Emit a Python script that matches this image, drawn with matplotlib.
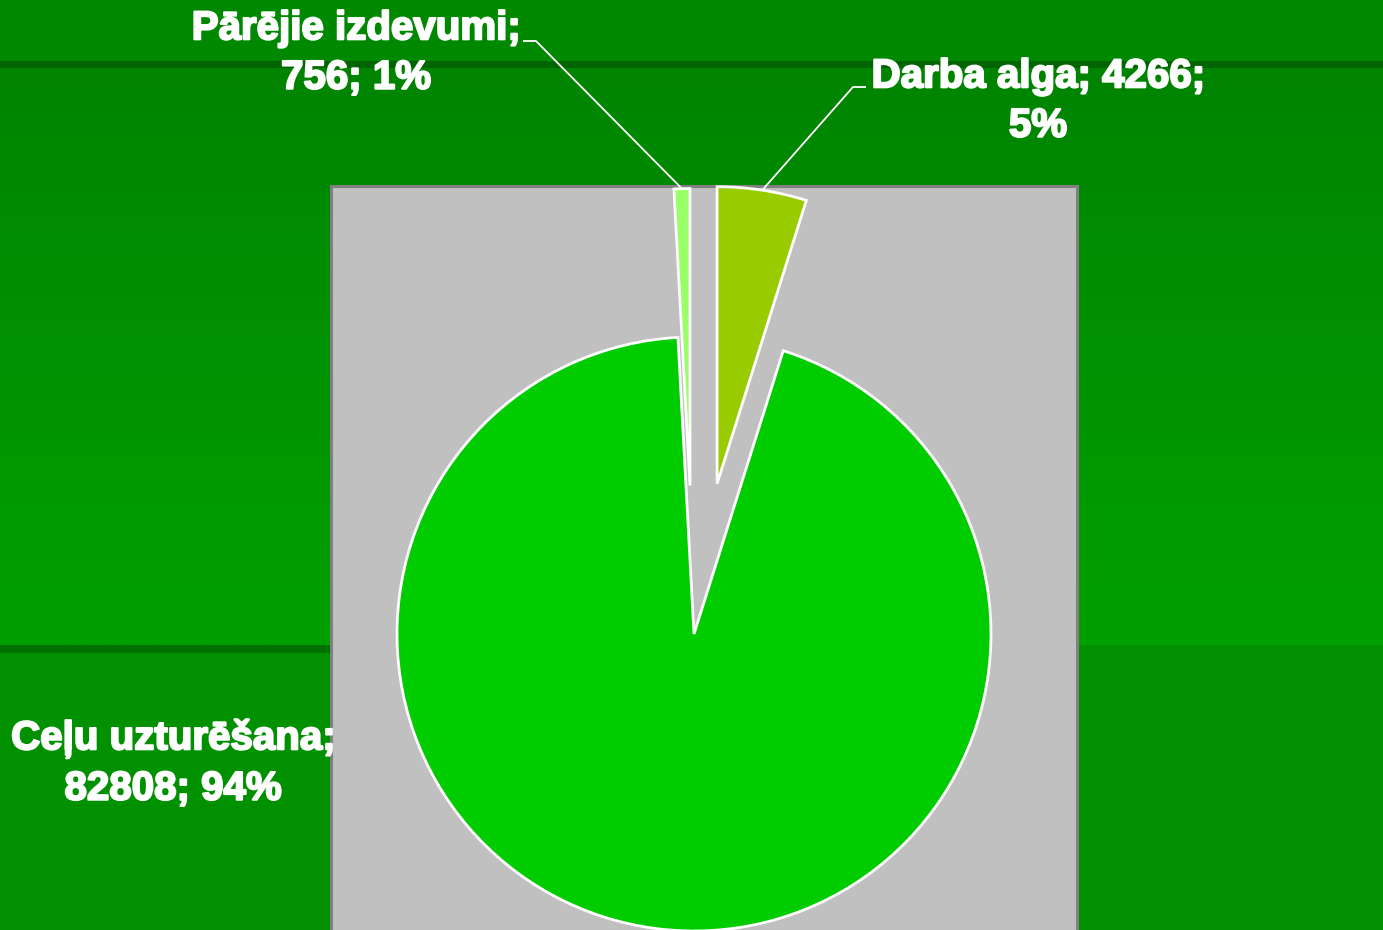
import numpy as np
import matplotlib
matplotlib.use("Agg")
import matplotlib.pyplot as plt
from matplotlib.patches import Rectangle
from matplotlib.colors import to_rgb
import matplotlib.patheffects as pe

# ---- data ----
categories = ["Darba alga", "Ceļu uzturēšana", "Pārējie izdevumi"]
values = [4266, 82808, 756]
colors = ["#99CC00", "#00CC00", "#99FF66"]
explode_frac = [0.512, 0.0, 0.50]

W, H = 1383, 930
R = 297
fig = plt.figure(figsize=(W / 100, H / 100), dpi=100)
ax = fig.add_axes([0, 0, 1, 1])

def Y(y_top):
    return H - y_top

# ---- background bands ----
ax.axhspan(Y(61), Y(0), color="#008800", zorder=0, lw=0)
ax.axhspan(Y(69), Y(61), color="#006400", zorder=0, lw=0)
top_c = np.array(to_rgb("#008400"))
bot_c = np.array(to_rgb("#00A000"))
t = np.linspace(0, 1, 256)[:, None]
grad = (top_c[None, :] * (1 - t) + bot_c[None, :] * t)[:, None, :]
ax.imshow(grad, extent=(0, W, Y(645), Y(69)), aspect="auto", zorder=0,
          interpolation="bilinear")
ax.axhspan(0, Y(645), color="#009000", zorder=0, lw=0)
ax.add_patch(Rectangle((0, Y(653)), 331, 8, color="#007000", zorder=0.5, lw=0))

# ---- plot area ----
ax.add_patch(Rectangle((331, -10), 1077 - 331, Y(186) + 10,
                       facecolor="#C0C0C0", edgecolor="#808080", lw=2.2, zorder=1))

# ---- pie ----
wedges, _ = ax.pie(values, explode=[f * R for f in explode_frac], colors=colors,
                   startangle=90, counterclock=False, radius=R,
                   center=(694, Y(634)),
                   wedgeprops=dict(edgecolor="white", linewidth=2.0))
for w in wedges:
    w.set_zorder(2)

ax.set_xlim(0, W)
ax.set_ylim(0, H)
ax.set_aspect("auto")
ax.axis("off")

total = sum(values)
pcts = [round(v / total * 100) for v in values]
labels = {
    "Darba alga": f"Darba alga; {values[0]};\n{pcts[0]}%",
    "Ceļu uzturēšana": f"Ceļu uzturēšana;\n{values[1]}; {pcts[1]}%",
    "Pārējie izdevumi": f"Pārējie izdevumi;\n{values[2]}; {pcts[2]}%",
}
label_pos = {
    "Darba alga": (1038, 101),
    "Ceļu uzturēšana": (173, 763),
    "Pārējie izdevumi": (356, 53),
}
font = dict(family=["Liberation Sans", "DejaVu Sans"], weight="bold",
            size=29, color="white")
for name in categories:
    x, y = label_pos[name]
    ax.text(x, Y(y), labels[name], ha="center", va="center",
            linespacing=1.38, zorder=5,
            path_effects=[pe.withStroke(linewidth=1.5, foreground="white")],
            **font)

# leader lines from wedge arc midpoint to label elbow
leaders = {
    "Darba alga": (853, 866, 87),
    "Pārējie izdevumi": (536, 523, 41),
}
for name, (ex, lx, ly) in leaders.items():
    w = wedges[categories.index(name)]
    th = np.deg2rad((w.theta1 + w.theta2) / 2)
    cx, cy = w.center
    tx, ty = cx + w.r * np.cos(th), cy + w.r * np.sin(th)
    ax.plot([tx, ex, lx], [ty, Y(ly), Y(ly)], color="white", lw=1.3,
            zorder=4, solid_capstyle="butt")

fig.savefig("out.png", dpi=100, facecolor="#008800")
